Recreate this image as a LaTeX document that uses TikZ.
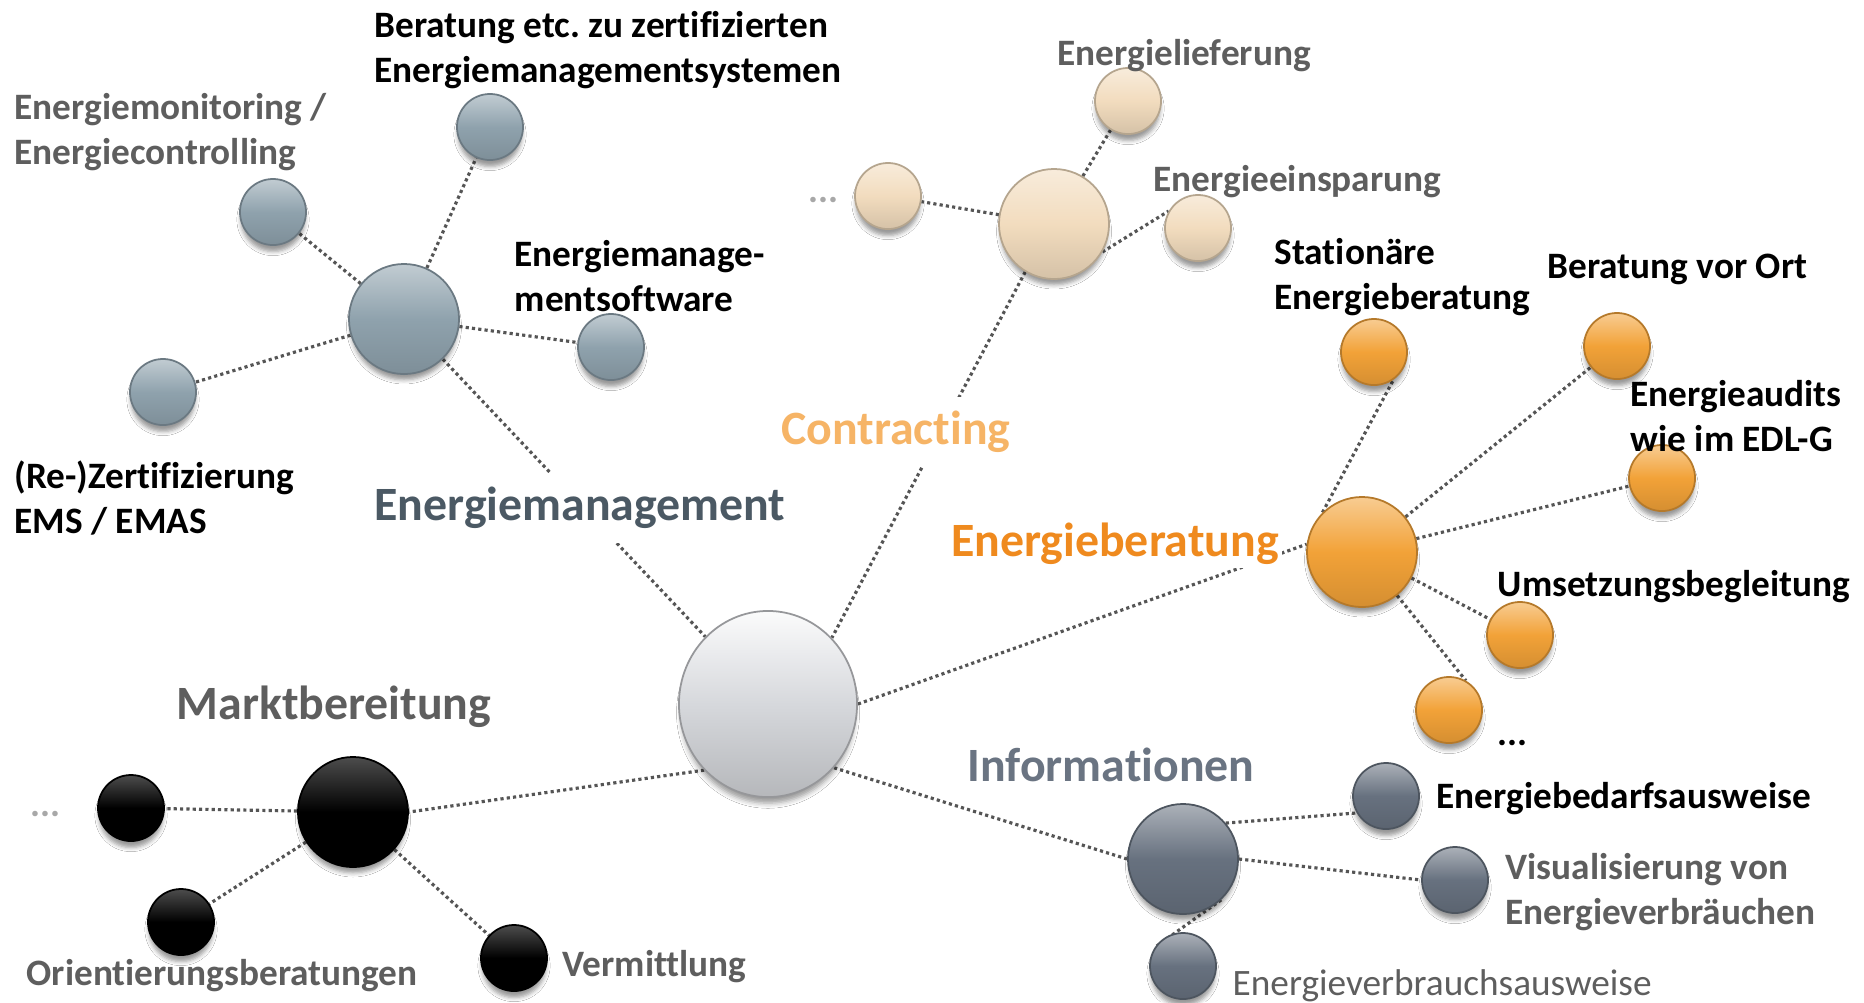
\documentclass[tikz,border=0pt]{standalone}
\usepackage{fontspec}
\setmainfont[Ligatures=NoCommon]{Carlito}
\usetikzlibrary{shapes.geometric,shadows.blur,backgrounds}
\definecolor{cEM}{HTML}{8FA2AD}
\definecolor{cCO}{HTML}{F2DCBE}
\definecolor{cEB}{HTML}{F2A238}
\definecolor{cIN}{HTML}{67717F}
\definecolor{cCE}{HTML}{D6D8DC}
\definecolor{tEM}{HTML}{4B5964}
\definecolor{tCO}{HTML}{F6B466}
\definecolor{tEB}{HTML}{EF8A1E}
\definecolor{tIN}{HTML}{6A7482}
\definecolor{tGR}{HTML}{5E5E5E}
\definecolor{tDOT}{HTML}{A8A8A8}
\definecolor{lnC}{HTML}{555555}
\tikzset{
  shd/.style={blur shadow={shadow xshift=0pt, shadow yshift=-2.2pt, shadow scale=0.97, shadow blur radius=1.2pt, shadow opacity=40}},
  bub/.style={circle, inner sep=0pt, draw=#1!75!black, line width=0.5pt,
    top color=#1!55!white, bottom color=#1!88!black, middle color=#1, shd},
  blk/.style={circle, inner sep=0pt, draw=black, line width=0.5pt,
    top color=black!70!white, bottom color=black, middle color=black, shd},
  hub/.style={minimum size=1.10cm},
  sml/.style={minimum size=0.66cm},
  conn/.style={draw=lnC, line width=0.9pt, dash pattern=on 0.9pt off 0.9pt},
  lbl/.style={font=\fontsize{10.6}{12.8}\selectfont\bfseries, align=left, anchor=west, inner sep=0pt, yshift=-1.1pt},
  big/.style={font=\fontsize{13.6}{16}\selectfont\bfseries, fill=white, inner sep=4pt, yshift=-1.1pt},
}
\begin{document}
\begin{tikzpicture}[x=0.01cm,y=-0.01cm]
\useasboundingbox (0,0) rectangle (1864,1002);

% centre
\node[ellipse, inner sep=0pt, minimum width=1.78cm, minimum height=1.86cm,
  draw=cCE!70!black, line width=0.5pt, top color=white!90!cCE, bottom color=cCE!85!black, middle color=cCE,
  blur shadow={shadow xshift=0pt, shadow yshift=-2.6pt, shadow scale=0.97, shadow blur radius=1.5pt, shadow opacity=40}] (c) at (768,704) {};

% Energiemanagement
\node[bub=cEM, hub] (emH) at (404,319) {};
\node[bub=cEM, sml] (emA) at (490,127) {};
\node[bub=cEM, sml] (emB) at (273,212) {};
\node[bub=cEM, sml] (emC) at (611,347) {};
\node[bub=cEM, sml] (emD) at (163,392) {};
% Contracting
\node[bub=cCO, hub] (coH) at (1054,224) {};
\node[bub=cCO, sml] (coA) at (1128,101) {};
\node[bub=cCO, sml] (coB) at (1198,228) {};
\node[bub=cCO, sml] (coC) at (888,196) {};
% Energieberatung
\node[bub=cEB, hub] (ebH) at (1362,552) {};
\node[bub=cEB, sml] (ebA) at (1374,352) {};
\node[bub=cEB, sml] (ebB) at (1617,346) {};
\node[bub=cEB, sml] (ebC) at (1662,478) {};
\node[bub=cEB, sml] (ebD) at (1520,635) {};
\node[bub=cEB, sml] (ebE) at (1449,710) {};
% Marktbereitung
\node[blk, hub] (mbH) at (353,812) {};
\node[blk, sml] (mbA) at (131,808) {};
\node[blk, sml] (mbB) at (181,922) {};
\node[blk, sml] (mbC) at (514,958) {};
% Informationen
\node[bub=cIN, hub] (inH) at (1183,859) {};
\node[bub=cIN, sml] (inA) at (1386,796) {};
\node[bub=cIN, sml] (inB) at (1455,880) {};
\node[bub=cIN, sml] (inC) at (1183,966) {};

% connectors
\begin{pgfonlayer}{background}
\fill[white] (0,0) rectangle (1864,1002);
\path[conn] (emH.-46) -- (c.133);
\path[conn] (coH.239) -- (c.46);
\path[conn] (c.east) -- (ebH.172);
\path[conn] (c.-134) -- (mbH.east);
\path[conn] (c.-44) -- (inH.180);
\path[conn] (emH) -- (emA);
\path[conn] (emH) -- (emB);
\path[conn] (emH) -- (emC);
\path[conn] (emH) -- (emD);
\path[conn] (coH) -- (coA);
\path[conn] (coH.-30) -- (coB.150);
\path[conn] (coH) -- (coC);
\path[conn] (ebH.135) -- (ebA.-55);
\path[conn] (ebH) -- (ebB);
\path[conn] (ebH) -- (ebC);
\path[conn] (ebH) -- (ebD);
\path[conn] (ebH) -- (ebE.60);
\path[conn] (mbH) -- (mbA);
\path[conn] (mbH) -- (mbB);
\path[conn] (mbH) -- (mbC);
\path[conn] (inH.40) -- (inA.210);
\path[conn] (inH.east) -- (inB.west);
\path[conn] (inH.-47) -- (inC.147);
\end{pgfonlayer}

% main labels
\node[big, text=tEM] (lEM) at (580,504) {Energiemanagement};
\node[big, text=tCO] (lCO) at (896,428) {Contracting};
\node[big, text=tEB, inner sep=1pt] (lEB) at (1115,540) {Energieberatung};
\node[big, text=tGR] (lMB) at (334,703) {Marktbereitung};
\node[big, text=tIN] (lIN) at (1111,761) {Informationen};

% item labels
\node[lbl] (tA) at (374,46.5) {Beratung etc.\ zu zertifizierten\\Energiemanagementsystemen};
\node[lbl, text=tGR] (tB) at (14,128.5) {Energiemonitoring /\\Energiecontrolling};
\node[lbl] (tC) at (514,272) {Energiemanage-\\mentsoftware};
\node[lbl] (tD) at (14,494) {(Re-)Zertifizierung\\EMS / EMAS};
\node[lbl, text=tGR] (tE) at (1057,52) {Energielieferung};
\node[lbl, text=tGR] (tF) at (1153,178) {Energieeinsparung};
\node[lbl, text=tDOT] (tG) at (808,196) {...};
\node[lbl] (tH) at (1274,273) {Stationäre\\Energieberatung};
\node[lbl] (tI) at (1547,266) {Beratung vor Ort};
\node[lbl] (tJ) at (1630,412) {Energieaudits\\wie im EDL-G};
\node[lbl] (tK) at (1497,583) {Umsetzungsbegleitung};
\node[lbl] (tL) at (1497,739) {...};
\node[lbl, text=tDOT] (tM) at (30,810) {...};
\node[lbl, text=tGR] (tN) at (26,972) {Orientierungsberatungen};
\node[lbl, text=tGR] (tO) at (562,963) {Vermittlung};
\node[lbl] (tP) at (1436,795) {Energiebedarfsausweise};
\node[lbl, text=tGR] (tQ) at (1505,888) {Visualisierung von\\Energieverbräuchen};
\node[lbl, text=tGR, font=\fontsize{10.6}{12.8}\selectfont] (tR) at (1232,982) {Energieverbrauchsausweise};
\end{tikzpicture}
\end{document}
